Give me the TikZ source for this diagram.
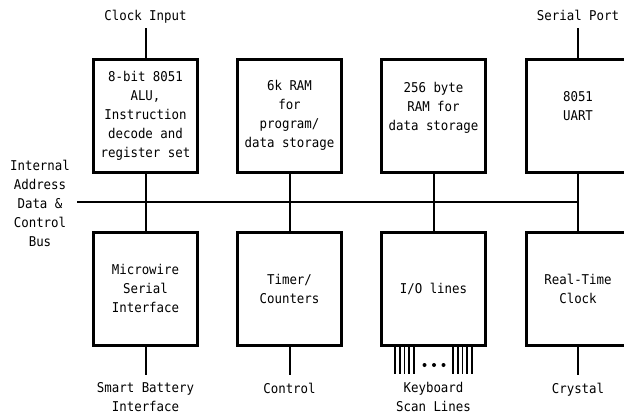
\documentclass[tikz,border=0pt]{standalone}
\usepackage{fontspec}
\setmainfont{DejaVu Sans Mono}[FakeStretch=0.92]
\usepackage{tikz}

\begin{document}
\begin{tikzpicture}[x=1pt,y=-1pt,
		font=\fontsize{13.5}{19}\selectfont,
		blk/.style={draw,line width=3pt,minimum width=104pt,minimum height=113pt,inner sep=0pt,align=center},
		lbl/.style={anchor=north,inner sep=0pt,align=center},
		wire/.style={line width=2pt},
		scan/.style={line width=1.6pt}]
			\clip (0,0) rectangle (624,418);
			\node[blk] (alu) at(145.5,115.5) {8-bit 8051\\ALU,\\Instruction\\decode and\\register set};
			\node[blk] (pram) at(289.5,115.5) {6k RAM\\for\\program/\\data storage};
			\node[blk] (dram) at(433.5,115.5) {256 byte\\RAM for\\data storage\\\mbox{}};
			\node[blk] (uart) at(578,115.5) {8051\\UART\\\mbox{}};
			\node[blk] (mw) at(145.5,288.5) {Microwire\\Serial\\Interface};
			\node[blk] (tmr) at(289.5,288.5) {Timer/\\Counters};
			\node[blk] (io) at(433.5,288.5) {I/O lines};
			\node[blk] (rtc) at(578,288.5) {Real-Time\\Clock};
			\node[lbl] (clk) at(145.5,9.5) {Clock Input};
			\node[lbl] (ser) at(578,9.5) {Serial Port};
			\node[lbl] (bus) at(40,159.5) {Internal\\Address\\Data \&\\Control\\Bus};
			\node[lbl] (batt) at(145.5,382.5) {Smart Battery\\Interface};
			\node[lbl] (ctl) at(289.5,382.5) {Control};
			\node[lbl] (kbd) at(433.5,382.5) {Keyboard\\Scan Lines};
			\node[lbl] (xtal) at(578,382.5) {Crystal};
			\coordinate (clkin) at(145.5,28);
			\coordinate (serin) at(578,28);
			\coordinate (busin) at(77,201.5);
			\coordinate (battout) at(145.5,375);
			\coordinate (ctlout) at(289.5,375);
			\coordinate (xtalout) at(578,375);
			\draw[wire] (clkin)--(alu.north);
			\draw[wire] (serin)--(uart.north);
			\draw[wire] (busin)--(busin -| uart.south);
			\draw[wire] (alu.south)--(mw.north);
			\draw[wire] (pram.south)--(tmr.north);
			\draw[wire] (dram.south)--(io.north);
			\draw[wire] (uart.south)--(rtc.north);
			\draw[wire] (mw.south)--(battout);
			\draw[wire] (tmr.south)--(ctlout);
			\draw[wire] (rtc.south)--(xtalout);
			\draw[scan] ([xshift=-38.5pt]io.south)--++(0,27);
			\draw[scan] ([xshift=-33.8pt]io.south)--++(0,27);
			\draw[scan] ([xshift=-29.1pt]io.south)--++(0,27);
			\draw[scan] ([xshift=-24.4pt]io.south)--++(0,27);
			\draw[scan] ([xshift=-19.7pt]io.south)--++(0,27);
			\draw[scan] ([xshift=19.5pt]io.south)--++(0,27);
			\draw[scan] ([xshift=24.2pt]io.south)--++(0,27);
			\draw[scan] ([xshift=28.9pt]io.south)--++(0,27);
			\draw[scan] ([xshift=33.6pt]io.south)--++(0,27);
			\draw[scan] ([xshift=38.3pt]io.south)--++(0,27);
			\fill (424.5,365) circle (2pt);
			\fill (434,365) circle (2pt);
			\fill (443.5,365) circle (2pt);
		\end{tikzpicture}
\end{document}
